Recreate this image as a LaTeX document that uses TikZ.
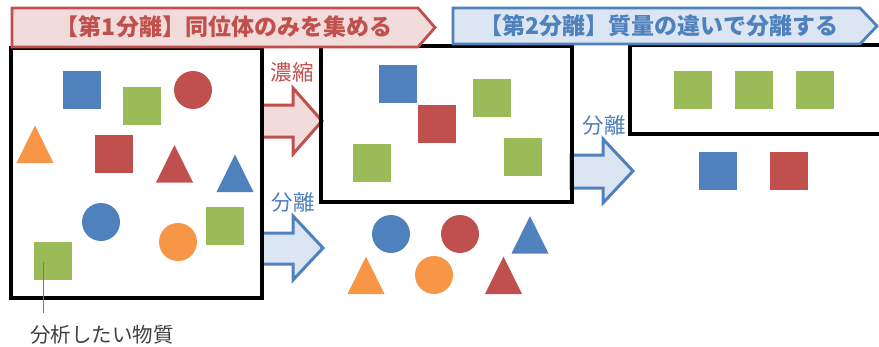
\documentclass[tikz,border=0pt]{standalone}
\usepackage{fontspec}
\newfontfamily\cjk{Noto Sans CJK JP}
\definecolor{ored}{HTML}{C0504D}
\definecolor{oblue}{HTML}{4F81BD}
\definecolor{ogreen}{HTML}{9BBB59}
\definecolor{oorange}{HTML}{F79646}
\definecolor{pinkfill}{HTML}{F2DCDB}
\definecolor{bluefill}{HTML}{DCE6F2}
\definecolor{labelgray}{HTML}{404040}
\tikzset{
  frame/.style={draw=black, line width=3.4pt},
  redband/.style={draw=ored, fill=pinkfill, line width=2.8pt, line join=miter},
  blueband/.style={draw=oblue, fill=bluefill, line width=2.8pt, line join=miter},
  redarrow/.style={draw=ored, fill=pinkfill, line width=3pt, line join=miter},
  bluearrow/.style={draw=oblue, fill=bluefill, line width=3pt, line join=miter},
  bandtext/.style={font=\cjk\bfseries\fontsize{23}{25}\selectfont, inner sep=0pt},
  arrowlabel/.style={font=\cjk\fontsize{21.5}{23}\selectfont, inner sep=0pt},
}
\newcommand{\sqr}[3]{\fill[#1] (#2-19,#3-19) rectangle (#2+19,#3+19);}
\newcommand{\crc}[3]{\fill[#1] (#2,#3) circle (19);}
\newcommand{\tri}[3]{\fill[#1] (#2,#3-19) -- (#2+18.5,#3+18.5) -- (#2-18.5,#3+18.5) -- cycle;}
\begin{document}
\begin{tikzpicture}[x=1pt,y=-1pt]
\useasboundingbox (0,0) rectangle (879,346);
% block arrows
\draw[redarrow] (262,105) -- (293,105) -- (293,88) -- (322,121) -- (293,154) -- (293,137) -- (262,137) -- cycle;
\draw[bluearrow] (262,233) -- (293,233) -- (293,216) -- (323,248) -- (293,280) -- (293,264) -- (262,264) -- cycle;
\draw[bluearrow] (571,155) -- (603,155) -- (603,139) -- (633,171) -- (603,203) -- (603,188) -- (571,188) -- cycle;
% frames
\draw[frame] (11,48) rectangle (262,298);
\draw[frame] (321,46) rectangle (572,202);
\draw[frame] (884,45) -- (630,45) -- (630,134) -- (884,134);
% banners
\draw[redband] (12,8) -- (418,8) -- (435,27.5) -- (418,47) -- (12,47) -- cycle;
\draw[blueband] (453,8) -- (860,8) -- (877,26) -- (860,44) -- (453,44) -- cycle;
\node[bandtext, text=ored] (t1) at (224,27) {【第1分離】同位体のみを集める};
\node[bandtext, text=oblue] (t2) at (659,26) {【第2分離】質量の違いで分離する};
% arrow labels
\node[arrowlabel, text=ored] (l1) at (292,72) {濃縮};
\node[arrowlabel, text=oblue] (l2) at (293,202) {分離};
\node[arrowlabel, text=oblue] (l3) at (604,125) {分離};
% box 1 contents
\sqr{oblue}{82}{89.5}
\sqr{ogreen}{141.5}{106}
\crc{ored}{193}{90}
\tri{oorange}{35}{144.5}
\sqr{ored}{113.5}{153.5}
\tri{ored}{174.5}{164}
\tri{oblue}{235}{173.5}
\crc{oblue}{101}{222}
\sqr{ogreen}{224.5}{225.5}
\crc{oorange}{178}{242}
\sqr{ogreen}{53}{260.5}
% box 2 contents
\sqr{oblue}{397.5}{84}
\sqr{ogreen}{491.5}{97.5}
\sqr{ored}{436.5}{124}
\sqr{ogreen}{371.5}{163}
\sqr{ogreen}{523}{157}
% below box 2
\crc{oblue}{391}{234}
\crc{ored}{460}{234}
\tri{oblue}{530}{235}
\tri{oorange}{366}{275.5}
\crc{oorange}{434}{275}
\tri{ored}{503.5}{275.5}
% box 3 contents
\sqr{ogreen}{693}{90}
\sqr{ogreen}{754}{90}
\sqr{ogreen}{815}{90}
% right of box 3
\sqr{oblue}{718}{171}
\sqr{ored}{789}{171}
% pointer and label
\node[font=\cjk\fontsize{20.5}{22}\selectfont, text=labelgray, inner sep=0pt] (lab) at (102,335) {分析したい物質};
\coordinate (ptr) at (43.5,262);
\draw[oblue, line width=1.3pt] (ptr) -- (ptr |- 0,313);
\end{tikzpicture}
\end{document}
